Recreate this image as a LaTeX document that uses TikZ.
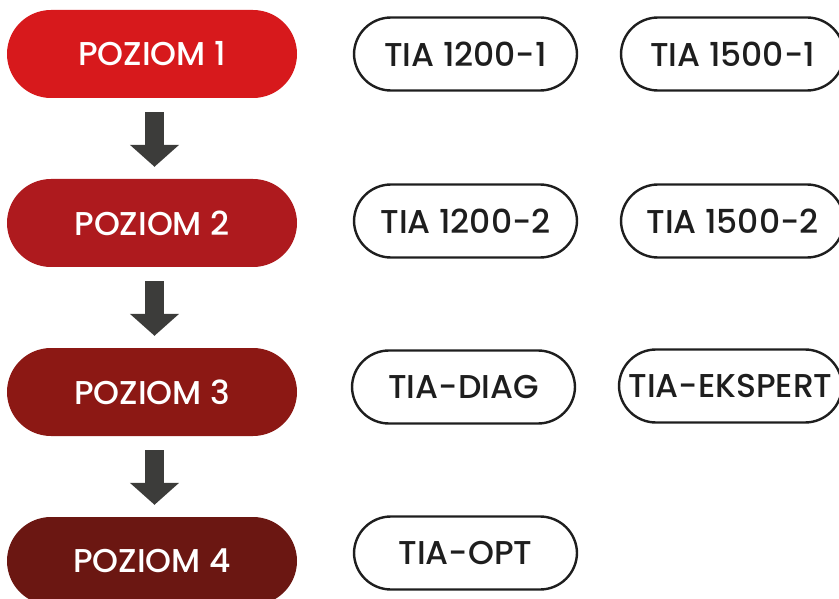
\documentclass[tikz,border=0pt]{standalone}
\usepackage{fontspec}
\setmainfont{Poppins}[UprightFont=* Medium]
\usetikzlibrary{arrows.meta}
\definecolor{lvlone}{HTML}{D7191C}
\definecolor{lvltwo}{HTML}{AE1A1E}
\definecolor{lvlthree}{HTML}{8C1814}
\definecolor{lvlfour}{HTML}{6B1712}
\definecolor{arrowgray}{HTML}{3C3C3A}
\definecolor{pillink}{HTML}{1E1E1E}
\tikzset{
  level/.style={rectangle, rounded corners=44pt, minimum width=290pt, minimum height=88pt,
    inner sep=0pt, text=white, font=\fontsize{33}{38}\selectfont},
  course/.style={rectangle, rounded corners=37pt, minimum width=223pt, minimum height=73pt,
    inner sep=0pt, draw=pillink, line width=2.4pt, text=pillink, font=\fontsize{33}{38}\selectfont},
  down/.style={arrowgray, line width=19pt, -{Triangle[width=48pt,length=22pt]}}
}
\begin{document}
\begin{tikzpicture}[x=1pt,y=-1pt]
\useasboundingbox (0,0) rectangle (839,599);
\clip (0,0) rectangle (839,599);

\node[level, fill=lvlone] (p1) at (152,54) {POZIOM 1};
\node[level, fill=lvltwo] (p2) at (152,223) {POZIOM 2};
\node[level, fill=lvlthree] (p3) at (152,392) {POZIOM 3};
\node[level, fill=lvlfour] (p4) at (152,561) {POZIOM 4};

\node[course] (t12001) at (465.5,54) {TIA 1200-1};
\node[course] (t15001) at (732.5,54) {TIA 1500-1};
\node[course] (t12002) at (465.5,221) {TIA 1200-2};
\node[course] (t15002) at (732.5,221) {TIA 1500-2};
\node[course] (tdiag) at (463.5,387) {TIA-DIAG};
\node[course] (teksp) at (730.5,386) {TIA-EKSPERT};
\node[course] (topt) at (465.5,553) {TIA-OPT};

\draw[down] ([xshift=2.5pt,yshift=-14pt]p1.south) -- ([xshift=2.5pt,yshift=12pt]p2.north);
\draw[down] ([xshift=2.5pt,yshift=-14pt]p2.south) -- ([xshift=2.5pt,yshift=12pt]p3.north);
\draw[down] ([xshift=2.5pt,yshift=-14pt]p3.south) -- ([xshift=2.5pt,yshift=12pt]p4.north);
\end{tikzpicture}
\end{document}
